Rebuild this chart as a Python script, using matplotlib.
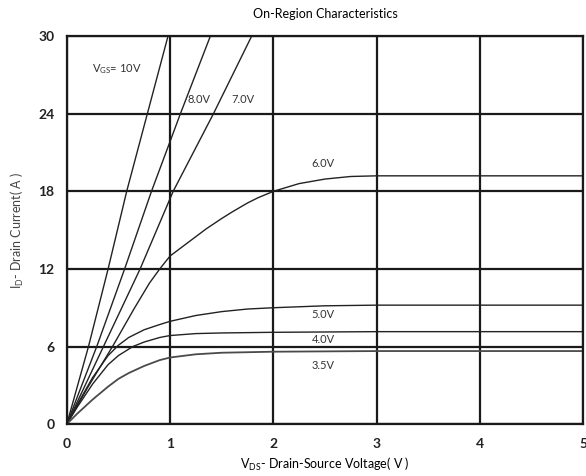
import matplotlib
matplotlib.use("Agg")
import matplotlib.pyplot as plt

plt.rcParams['font.family'] = ['Lato', 'DejaVu Sans']
plt.rcParams['mathtext.default'] = 'regular'

# Values (VDS in V, ID in A)
vds_10v = [0, 0.21, 0.40, 0.58, 0.78, 0.98]
id_10v = [0, 6, 12, 18, 24, 30]
vds_8v = [0, 0.29, 0.56, 0.82, 1.10, 1.39]
id_8v = [0, 6, 12, 18, 24, 30]
vds_7v = [0, 0.355, 0.71, 1.03, 1.42, 1.79]
id_7v = [0, 6, 12, 18, 24, 30]
vds_6v = [0, 0.2, 0.45, 0.65, 0.8, 0.9, 1.0, 1.1, 1.25, 1.35, 1.5, 1.6, 1.75,
          1.85, 2.0, 2.25, 2.5, 2.75, 3.0, 4.0, 5.0]
id_6v = [0, 2.8, 6.1, 8.9, 10.9, 12.0, 13.0, 13.6, 14.5, 15.1, 15.9, 16.4, 17.1,
         17.5, 18.0, 18.6, 18.95, 19.15, 19.2, 19.2, 19.2]
vds_5v = [0, 0.1, 0.25, 0.4, 0.5, 0.6, 0.75, 0.9, 1.0, 1.25, 1.5, 1.75, 2.0, 2.5, 3.0, 5.0]
id_5v = [0, 1.5, 3.6, 5.3, 6.1, 6.7, 7.3, 7.7, 7.95, 8.4, 8.7, 8.9, 9.0, 9.15, 9.2, 9.2]
vds_4v = [0, 0.1, 0.25, 0.4, 0.5, 0.64, 0.75, 0.9, 1.0, 1.25, 1.5, 2.0, 3.0, 5.0]
id_4v = [0, 1.3, 3.1, 4.6, 5.3, 6.0, 6.35, 6.7, 6.85, 7.0, 7.05, 7.1, 7.15, 7.15]
vds_35v = [0, 0.1, 0.25, 0.4, 0.5, 0.6, 0.75, 0.9, 1.0, 1.25, 1.5, 2.0, 3.0, 5.0]
id_35v = [0, 0.8, 1.9, 2.9, 3.5, 3.95, 4.5, 4.95, 5.15, 5.4, 5.52, 5.6, 5.65, 5.65]

x_ticks = [0, 1, 2, 3, 4, 5]
y_ticks = [0, 6, 12, 18, 24, 30]

fig = plt.figure(figsize=(5.86, 4.76), dpi=100)
ax = fig.add_axes([0.114, 0.109, 0.881, 0.815])

# grid first, curves on top
for xv in x_ticks:
    ax.axvline(xv, color='#1a1a1a', lw=1.6, zorder=1)
for yv in y_ticks:
    ax.axhline(yv, color='#1a1a1a', lw=1.6, zorder=1)

curve_kw = dict(color='#222222', lw=1.0, zorder=2)
ax.plot(vds_10v, id_10v, **curve_kw)
ax.plot(vds_8v, id_8v, **curve_kw)
ax.plot(vds_7v, id_7v, **curve_kw)
ax.plot(vds_6v, id_6v, **curve_kw)
ax.plot(vds_5v, id_5v, **curve_kw)
ax.plot(vds_4v, id_4v, **curve_kw)
ax.plot(vds_35v, id_35v, color='#4a4a4a', lw=1.3, zorder=2)

# curve labels
lbl = dict(fontsize=8, color='#333333')
ax.text(0.24, 27.2, 'V$_{GS}$= 10V', **lbl)
ax.text(1.17, 24.8, '8.0V', **lbl)
ax.text(1.59, 24.8, '7.0V', **lbl)
ax.text(2.37, 19.9, '6.0V', **lbl)
ax.text(2.37, 8.2, '5.0V', **lbl)
ax.text(2.37, 6.3, '4.0V', **lbl)
ax.text(2.37, 4.3, '3.5V', **lbl)

ax.set_xlim(0, 5)
ax.set_ylim(0, 30)
ax.set_xticks(x_ticks)
ax.set_yticks(y_ticks)
ax.tick_params(length=0, labelsize=10)
ax.tick_params(axis='x', pad=10)
ax.tick_params(axis='y', pad=9)
for lab in ax.get_xticklabels() + ax.get_yticklabels():
    lab.set_fontweight('bold')
    lab.set_color('#222222')
for s in ax.spines.values():
    s.set_linewidth(1.6)
    s.set_color('#1a1a1a')

ax.set_title('On-Region Characteristics', fontsize=9, pad=13)
ax.set_xlabel('V$_{DS}$- Drain-Source Voltage( V )', fontsize=9, labelpad=4)
ax.set_ylabel('I$_{D}$- Drain Current( A )', fontsize=9, color='#444444', labelpad=9)

fig.savefig('out.png', dpi=100)
